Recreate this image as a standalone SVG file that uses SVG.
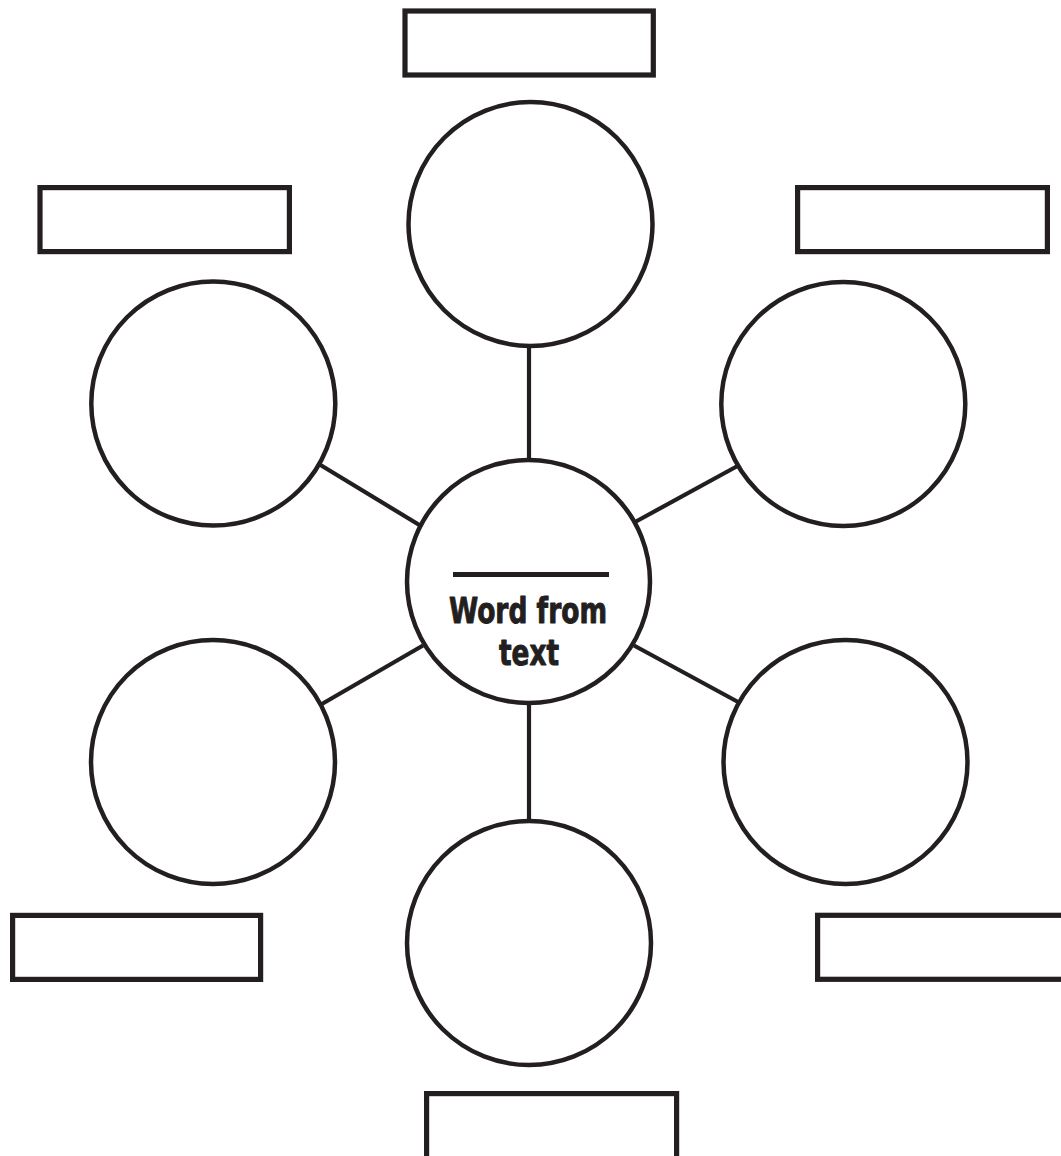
<svg xmlns="http://www.w3.org/2000/svg" width="1061" height="1156" viewBox="0 0 1061 1156">
  <style>
    .bubble { fill: #ffffff; stroke: #231f20; stroke-width: 4.5; }
    .box { fill: #ffffff; stroke: #231f20; stroke-width: 5.2; }
    .link { stroke: #231f20; stroke-width: 4.2; stroke-linecap: butt; fill: none; }
    .label { font-family: "Liberation Sans Narrow", "DejaVu Sans Condensed", "Liberation Sans", sans-serif; font-stretch: condensed; font-weight: bold; font-size: 35px; fill: #231f20; stroke: #231f20; stroke-width: 0.9; stroke-linejoin: round; text-anchor: middle; }
  </style>
  <rect x="0" y="0" width="1061" height="1156" fill="#ffffff"/>

  <!-- spokes joining the centre bubble to the outer bubbles -->
  <g id="connectors">
    <line class="link" x1="529" y1="347" x2="529" y2="460"/>
    <line class="link" x1="529" y1="703" x2="529" y2="822"/>
    <line class="link" x1="318" y1="463.5" x2="421" y2="526"/>
    <line class="link" x1="737.5" y1="466" x2="636" y2="521.5"/>
    <line class="link" x1="321" y1="704.5" x2="423" y2="645.5"/>
    <line class="link" x1="739" y1="702.5" x2="634" y2="645.5"/>
  </g>

  <!-- centre bubble with blank line and caption -->
  <g id="centre">
    <circle class="bubble" cx="528.5" cy="581.5" r="121.5"/>
    <line x1="453" y1="574.5" x2="609" y2="574.5" stroke="#231f20" stroke-width="5"/>
    <text class="label" x="528" y="623" textLength="158" lengthAdjust="spacingAndGlyphs">Word from</text>
    <text class="label" x="529" y="665" textLength="60" lengthAdjust="spacingAndGlyphs">text</text>
  </g>

  <!-- outer bubbles -->
  <g id="bubble-top"><circle class="bubble" cx="530.5" cy="224" r="122"/></g>
  <g id="bubble-upper-left"><circle class="bubble" cx="213.3" cy="403.5" r="122"/></g>
  <g id="bubble-upper-right"><circle class="bubble" cx="843.3" cy="404" r="122"/></g>
  <g id="bubble-lower-left"><circle class="bubble" cx="213" cy="762" r="122"/></g>
  <g id="bubble-lower-right"><circle class="bubble" cx="845.5" cy="762" r="122"/></g>
  <g id="bubble-bottom"><circle class="bubble" cx="529" cy="943" r="122"/></g>

  <!-- blank answer boxes -->
  <g id="box-top"><rect class="box" x="405" y="11" width="248.3" height="64"/></g>
  <g id="box-upper-left"><rect class="box" x="40" y="187.6" width="249.4" height="64"/></g>
  <g id="box-upper-right"><rect class="box" x="797.6" y="187.6" width="249.8" height="64"/></g>
  <g id="box-lower-left"><rect class="box" x="12.6" y="915.4" width="248" height="64"/></g>
  <g id="box-lower-right"><rect class="box" x="817.6" y="915.3" width="250" height="64"/></g>
  <g id="box-bottom"><rect class="box" x="426.6" y="1093.6" width="250" height="72"/></g>
</svg>
